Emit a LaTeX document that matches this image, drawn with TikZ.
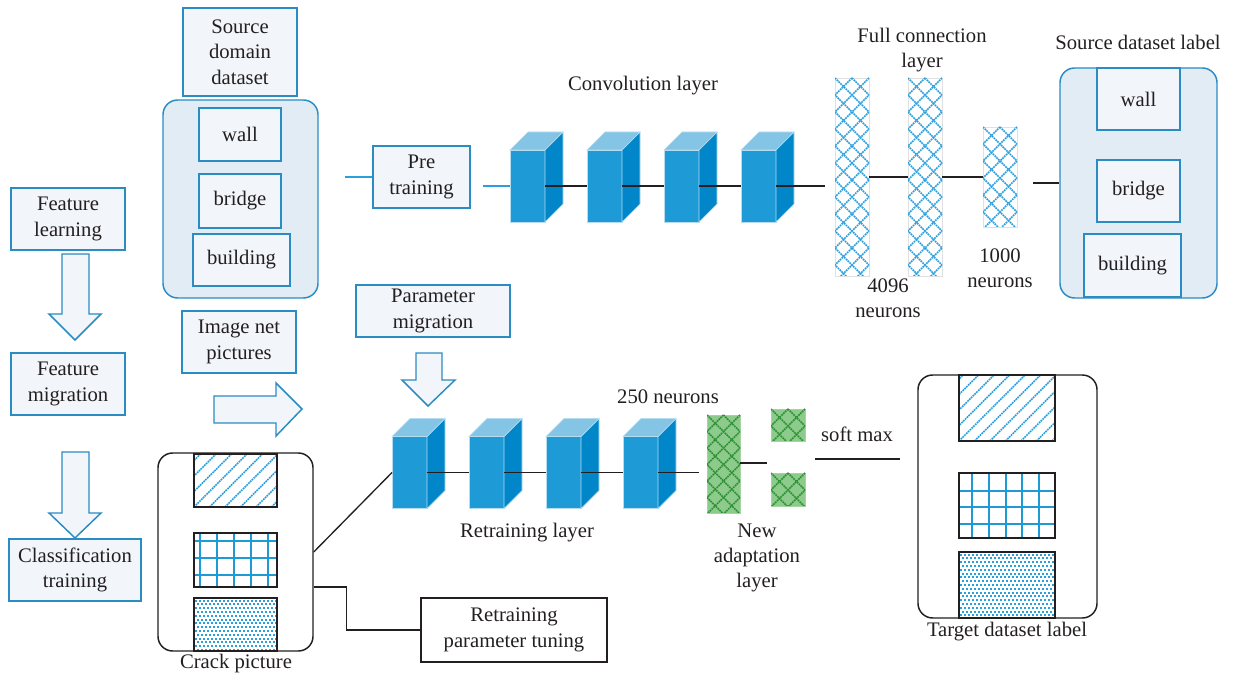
\documentclass[tikz,border=0pt]{standalone}
\usepackage{fontspec}
\setmainfont{Liberation Serif}
\usetikzlibrary{calc}
\definecolor{boxfill}{HTML}{F2F5FA}
\definecolor{boxline}{HTML}{2B8CC3}
\definecolor{contfill}{HTML}{E1ECF4}
\definecolor{cfront}{HTML}{1E9BD7}
\definecolor{cside}{HTML}{0086C9}
\definecolor{ctop}{HTML}{84C5E6}
\definecolor{cedge}{HTML}{B5DCEF}
\definecolor{latblue}{HTML}{2A9FDD}
\definecolor{gfill}{HTML}{8CCB8C}
\definecolor{gline}{HTML}{2F8F35}
\definecolor{txt}{HTML}{231F20}
\tikzset{
  lbl/.style={font=\fontsize{15.5}{19}\selectfont, text=txt, align=center, inner sep=0pt},
  bluebox/.style={lbl, draw=boxline, fill=boxfill, line width=1.1pt},
  cont/.style={draw=boxline, fill=contfill, line width=1.1pt, rounded corners=11pt, minimum width=116.25pt, minimum height=148.5pt},
  blackcont/.style={draw=txt, fill=white, line width=1.1pt, rounded corners=11pt},
  cubefront/.style={fill=cfront, draw=cedge, line width=0.4pt, minimum width=26.25pt, minimum height=54pt, inner sep=0pt, outer sep=0pt},
  column/.style={draw=black!12, line width=0.6pt, inner sep=0pt, outer sep=0pt, minimum width=25.5pt},
  blueline/.style={draw=latblue, line width=0.9pt},
  conn/.style={draw=txt, line width=1pt},
  blockarrow/.style={draw=boxline, fill=boxfill, line width=1.1pt, line join=miter},
  patbox/.style={draw=txt, line width=1.1pt},
}
\newcommand\cubeat[3]{%
  \node[cubefront] (#1) at (#2,#3) {};
  \filldraw[fill=cside, draw=cedge, line width=0.4pt] (#1.north east) -- ++(18,-18) -- ++(0,72) -- (#1.south east) -- cycle;
  \filldraw[fill=ctop, draw=cedge, line width=0.4pt] (#1.north west) -- ++(18,-18) -- ++(35,0) -- (#1.north east) -- cycle;
}
\newcommand\latticefill[3]{%
  \begin{scope}
    \clip (#1.north west) rectangle (#1.south east);
    \foreach \k in {-14,...,16} {
      \draw[#2, line width=1.3pt, dash pattern=on 1.3pt off 0.6pt] ($(#1.north west)+(\k*#3,0)$) -- ++(240,240);
      \draw[#2, line width=1.3pt, dash pattern=on 1.3pt off 0.6pt] ($(#1.north west)+(\k*#3,0)$) -- ++(-240,240);
    }
  \end{scope}
}
\newcommand\hatchrect[4]{%
  \begin{scope}
    \clip (#1,#2) rectangle (#3,#4);
    \foreach \k in {-6,...,10} {
      \draw[latblue, line width=1.3pt, dash pattern=on 1.3pt off 0.6pt] ({#1+\k*15.5},#4) -- ++(80,-80);
    }
  \end{scope}
  \draw[patbox] (#1,#2) rectangle (#3,#4);
}
\newcommand\dotrect[4]{%
  \begin{scope}
    \clip (#1,#2) rectangle (#3,#4);
    \foreach \i in {0,...,24} {
      \foreach \j in {0,...,17} {
        \pgfmathsetmacro\off{mod(\j,2)*2}
        \fill[latblue] ({#1+0.5+\i*4+\off},{#2+1.5+\j*3.8}) rectangle ++(2.1,2.1);
      }
    }
  \end{scope}
  \draw[patbox] (#1,#2) rectangle (#3,#4);
}
\begin{document}
\begin{tikzpicture}[x=0.75pt,y=-0.75pt]
\useasboundingbox (0,0) rectangle (1235,680);

% ---------- top: source domain ----------
\node[bluebox, minimum width=85.5pt, minimum height=66pt] (sdd) at (240,52) {Source\\domain\\dataset};
\node[cont] (src1) at (240.5,199) {};
\node[bluebox, minimum width=61.5pt, minimum height=39.75pt] (wall1) at (240,134.5) {wall};
\node[bluebox, minimum width=61.5pt, minimum height=40.5pt] (bridge1) at (240,201) {bridge};
\node[bluebox, minimum width=72.75pt, minimum height=39pt] (build1) at (241.5,260) {building};

\node[bluebox, minimum width=72.75pt, minimum height=46.5pt] (pre) at (421.5,177) {Pre\\training};
\coordinate (pl) at (345,177);
\coordinate (pr) at (483,186);

\node[lbl] (convlbl) at (643,86) {Convolution layer};
\cubeat{c1}{527.5}{186}
\cubeat{c2}{604.5}{186}
\cubeat{c3}{681.5}{186}
\cubeat{c4}{758.5}{186}
\coordinate (fcin) at (825,186);

\draw[blueline] (pl) -- (pre.west);
\draw[blueline] (pr) -- (c1.west);
\draw[conn] (c1.east) -- (c2.west);
\draw[conn] (c2.east) -- (c3.west);
\draw[conn] (c3.east) -- (c4.west);
\draw[conn] (c4.east) -- (fcin);

% full connection
\node[lbl] (fclbl) at (922,50) {Full connection\\layer};
\node[column, fill=white, minimum height=148.5pt] (fc1) at (852,177) {};
\node[column, fill=white, minimum height=148.5pt] (fc2) at (925,177) {};
\node[column, fill=white, minimum height=75pt] (fc3) at (1000,177) {};
\latticefill{fc1}{latblue}{17}
\latticefill{fc2}{latblue}{17}
\latticefill{fc3}{latblue}{17}
\draw[conn] (fc1.east) -- (fc2.west);
\draw[conn] (fc2.east) -- (fc3.west);
\node[lbl] (n4096) at (888,298) {4096\\neurons};
\node[lbl] (n1000) at (1000,268) {1000\\neurons};

% source dataset label
\node[lbl] (srclbl) at (1138,42) {Source dataset label};
\node[cont, minimum width=117.75pt, minimum height=172.5pt] (src2) at (1138.5,183) {};
\node[bluebox, minimum width=62.25pt, minimum height=46.5pt] (wall2) at (1138.5,99) {wall};
\node[bluebox, minimum width=62.25pt, minimum height=46.5pt] (bridge2) at (1138.5,191) {bridge};
\node[bluebox, minimum width=72.75pt, minimum height=47.25pt] (build2) at (1132.5,265.5) {building};
\coordinate (fcout) at (1033,183);
\draw[conn] (fcout) -- (src2.west);

% ---------- left column ----------
\node[bluebox, minimum width=85.5pt, minimum height=46.5pt] (fl) at (68,219) {Feature\\learning};
\node[bluebox, minimum width=85.5pt, minimum height=46.5pt] (fm) at (68,384) {Feature\\migration};
\node[bluebox, minimum width=99pt, minimum height=46.5pt] (ct) at (75,570) {Classification\\training};
\draw[blockarrow] (62,254) -- (89,254) -- (89,314) -- (101,314) -- (75,340) -- (49,314) -- (62,314) -- cycle;
\draw[blockarrow] (62,452) -- (89,452) -- (89,513) -- (101,513) -- (75,538) -- (49,513) -- (62,513) -- cycle;

\node[bluebox, minimum width=85.5pt, minimum height=46.5pt] (inp) at (239,342) {Image net\\pictures};
\draw[blockarrow] (214,396) -- (276,396) -- (276,383) -- (302,409) -- (276,436) -- (276,423) -- (214,423) -- cycle;

\node[bluebox, minimum width=115.5pt, minimum height=39pt] (pm) at (433,311) {Parameter\\migration};
\draw[blockarrow] (416,353) -- (442,353) -- (442,380) -- (455,380) -- (428,406) -- (402,380) -- (416,380) -- cycle;

% ---------- bottom network ----------
\node[lbl] (n250) at (668,397) {250 neurons};
\cubeat{b1}{409.5}{472.5}
\cubeat{b2}{486.5}{472.5}
\cubeat{b3}{563.5}{472.5}
\cubeat{b4}{640.5}{472.5}
\coordinate (bout) at (699,472.5);
\draw[conn] (b1.east) -- (b2.west);
\draw[conn] (b2.east) -- (b3.west);
\draw[conn] (b3.east) -- (b4.west);
\draw[conn] (b4.east) -- (bout);

\node[column, draw=gfill!80!white, fill=gfill, minimum width=24.75pt, minimum height=73.5pt] (gcol) at (723.5,464) {};
\node[column, draw=gfill!80!white, fill=gfill, minimum height=24pt] (gs1) at (788,425) {};
\node[column, draw=gfill!80!white, fill=gfill, minimum height=24.75pt] (gs2) at (788,489.5) {};
\latticefill{gcol}{gline}{16.5}
\latticefill{gs1}{gline}{17}
\latticefill{gs2}{gline}{17}
\coordinate (gout) at (767,463);
\draw[conn] (gcol.east |- gout) -- (gout);

\node[lbl] (smx) at (857,434) {soft max};
\coordinate (sm1) at (815,459);
\coordinate (sm2) at (900,459);
\draw[conn] (sm1) -- (sm2);

\node[lbl] (rlay) at (527,533) {Retraining layer};
\node[lbl] (nal) at (757,558) {New\\adaptation\\layer};

% crack picture
\node[blackcont, minimum width=116.25pt, minimum height=148.5pt] (crack) at (235.5,552) {};
\hatchrect{194}{454}{277}{507}
\begin{scope}
  \draw[cfront, line width=1.5pt] \foreach \x in {200,217,234,251,268} {(\x,533) -- (\x,587)};
  \draw[cfront, line width=1.5pt] \foreach \y in {541,558,575} {(194,\y) -- (277,\y)};
\end{scope}
\draw[patbox] (194,533) rectangle (277,587);
\dotrect{194}{598}{277}{651}
\node[lbl] (crlbl) at (236,664) {Crack picture};

% target dataset
\node[blackcont, minimum width=134.25pt, minimum height=182.25pt] (target) at (1007.5,496.5) {};
\hatchrect{959}{375}{1055}{441}
\begin{scope}
  \draw[cfront, line width=1.5pt] \foreach \x in {972,989,1006,1022,1039} {(\x,473) -- (\x,538)};
  \draw[cfront, line width=1.5pt] \foreach \y in {491,507,524} {(959,\y) -- (1055,\y)};
\end{scope}
\draw[patbox] (959,473) rectangle (1055,538);
\dotrect{959}{552}{1055}{618}
\node[lbl] (tglbl) at (1007,632) {Target dataset label};

% retraining parameter tuning
\node[lbl, draw=txt, line width=1.1pt, minimum width=139.5pt, minimum height=48pt] (rpt) at (514,630) {Retraining\\parameter tuning};

\draw[conn] (crack.east) -- (b1.west);
\draw[conn] ($(crack.east)+(0,35)$) -- ++(33,0) |- (rpt.west);
\draw[conn] ($(rlay.south)+(0,8)$) -- ($(rlay.south)+(0,8)$ |- rpt.north);
\end{tikzpicture}
\end{document}
